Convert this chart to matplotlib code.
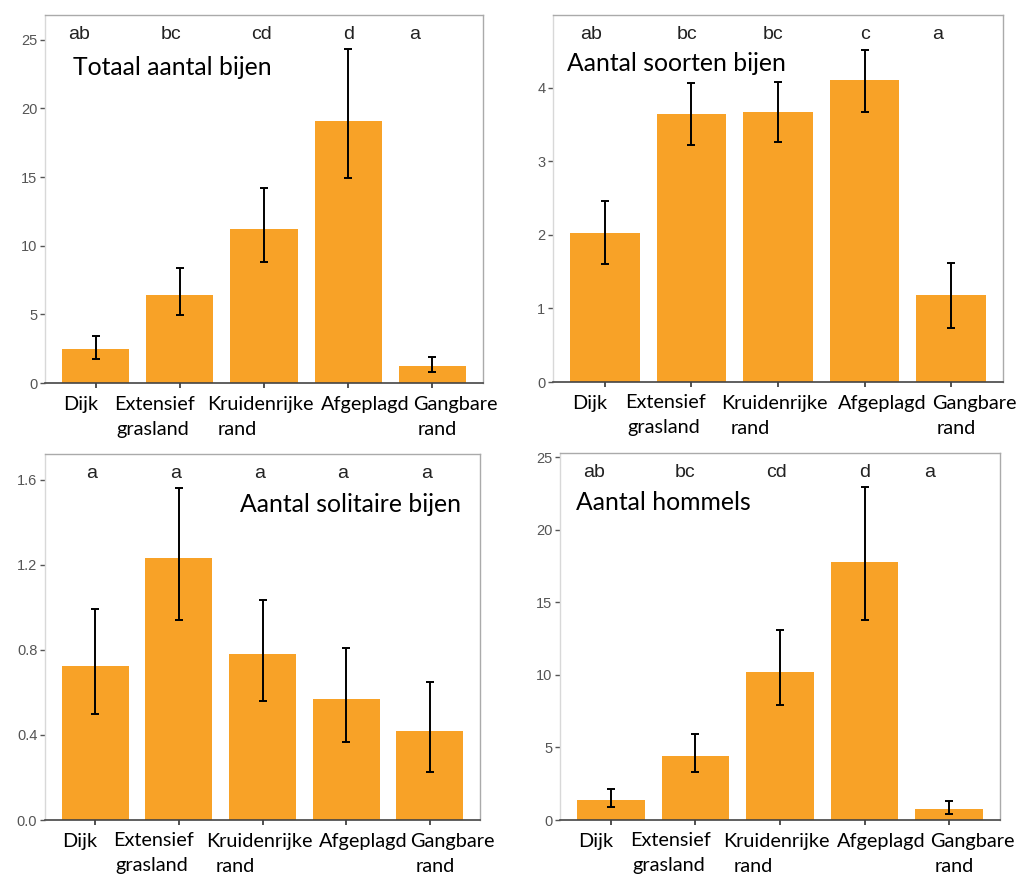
import numpy as np
import matplotlib
matplotlib.use("Agg")
import matplotlib.pyplot as plt

# categories (two lines each, as in the figure)
cat_line1 = ["Dijk", "Extensief", "Kruidenrijke", "Afgeplagd", "Gangbare"]
cat_line2 = ["", "grasland", "rand", "", "rand"]

# Totaal aantal bijen
totaal = [2.46, 6.4, 11.2, 19.05, 1.22]
totaal_lo = [1.73, 4.94, 8.79, 14.92, 0.8]
totaal_hi = [3.43, 8.35, 14.19, 24.33, 1.9]
totaal_sig = ["ab", "bc", "cd", "d", "a"]

# Aantal soorten bijen
soorten = [2.02, 3.64, 3.67, 4.1, 1.18]
soorten_lo = [1.6, 3.22, 3.26, 3.67, 0.73]
soorten_hi = [2.46, 4.07, 4.08, 4.52, 1.62]
soorten_sig = ["ab", "bc", "bc", "c", "a"]

# Aantal solitaire bijen
solitair = [0.725, 1.229, 0.781, 0.568, 0.42]
solitair_lo = [0.5, 0.94, 0.559, 0.365, 0.227]
solitair_hi = [0.99, 1.561, 1.032, 0.806, 0.65]
solitair_sig = ["a", "a", "a", "a", "a"]

# Aantal hommels
hommels = [1.38, 4.42, 10.23, 17.81, 0.76]
hommels_lo = [0.92, 3.34, 7.95, 13.82, 0.39]
hommels_hi = [2.12, 5.94, 13.13, 22.97, 1.34]
hommels_sig = ["ab", "bc", "cd", "d", "a"]

BAR = "#F8A227"
W, H = 1020, 877

fig = plt.figure(figsize=(W / 100, H / 100), dpi=100)


def add_ax(left, right, top, bottom):
    return fig.add_axes([left / W, 1 - bottom / H, (right - left) / W, (bottom - top) / H])


# label x positions (data units) -- the category labels are shifted like in the original
lab1_x = [0.82, 1.7, 2.96, 4.2, 5.27]
lab2_x = [0.82, 1.68, 2.68, 4.2, 5.06]


def panel(ax, vals, lo, hi, sig, sig_x, sig_y, ymax, yticks, yfmt, title, title_xy):
    x = np.arange(1, len(vals) + 1)
    vals = np.array(vals)
    err = [vals - np.array(lo), np.array(hi) - vals]
    ax.bar(x, vals, width=0.8, color=BAR, zorder=2)
    ax.errorbar(x, vals, yerr=err, fmt="none", ecolor="black", elinewidth=1.4,
                capsize=3, capthick=1.4, zorder=3)
    ax.set_xlim(0.4, 5.6)
    ax.set_ylim(0, ymax)
    ax.set_yticks(yticks)
    ax.set_yticklabels([yfmt.format(t) for t in yticks])
    ax.set_xticks(x)
    ax.set_xticklabels([])
    ax.tick_params(axis="y", length=3.5, width=1, color="#555555", labelcolor="#555555",
                   labelsize=10.5, pad=2)
    ax.tick_params(axis="x", length=3.5, width=1.2, color="#333333")
    for lab in ax.get_yticklabels():
        lab.set_family("Liberation Sans")
    ax.spines["left"].set_color("#d8d8d8")
    ax.spines["top"].set_color("#aaaaaa")
    ax.spines["right"].set_color("#aaaaaa")
    ax.spines["bottom"].set_color("#444444")
    ax.spines["bottom"].set_linewidth(1.2)
    for s in ["left", "top", "right"]:
        ax.spines[s].set_linewidth(1.0)
    for xi, s in zip(sig_x, sig):
        ax.text(xi, sig_y, s, ha="center", va="center", fontsize=14,
                family="Liberation Sans", color="#222222")
    ax.text(title_xy[0], title_xy[1], title, transform=ax.transAxes, ha="left",
            va="center", fontsize=17.8, family="Lato", color="black")
    for i in range(len(cat_line1)):
        ax.annotate(cat_line1[i], xy=(lab1_x[i], 0), xycoords=("data", "axes fraction"),
                    xytext=(0, -21), textcoords="offset pixels", ha="center", va="center",
                    fontsize=14.3, family="Lato", color="black")
        if cat_line2[i]:
            ax.annotate(cat_line2[i], xy=(lab2_x[i], 0), xycoords=("data", "axes fraction"),
                        xytext=(0, -46), textcoords="offset pixels", ha="center", va="center",
                        fontsize=14.3, family="Lato", color="black")


ax1 = add_ax(45, 483, 15, 383)
panel(ax1, totaal, totaal_lo, totaal_hi, totaal_sig, [0.8, 1.89, 2.97, 4.01, 4.79], 25.4,
      26.8, [0, 5, 10, 15, 20, 25], "{:g}", "Totaal aantal bijen", (0.064, 0.857))

ax2 = add_ax(553, 1003, 15, 382)
panel(ax2, soorten, soorten_lo, soorten_hi, soorten_sig, [0.84, 1.95, 2.94, 4.0, 4.85], 4.72,
      4.99, [0, 1, 2, 3, 4], "{:g}", "Aantal soorten bijen", (0.031, 0.868))

ax3 = add_ax(45, 480, 454, 820)
panel(ax3, solitair, solitair_lo, solitair_hi, solitair_sig, [0.96, 1.96, 2.96, 3.96, 4.96], 1.63,
      1.72, [0.0, 0.4, 0.8, 1.2, 1.6], "{:.1f}", "Aantal solitaire bijen", (0.448, 0.863))

ax4 = add_ax(560, 1000, 453, 820)
panel(ax4, hommels, hommels_lo, hommels_hi, hommels_sig, [0.8, 1.88, 2.96, 4.0, 4.77], 23.96,
      25.3, [0, 5, 10, 15, 20, 25], "{:g}", "Aantal hommels", (0.036, 0.866))

fig.savefig("out.png", dpi=100)
